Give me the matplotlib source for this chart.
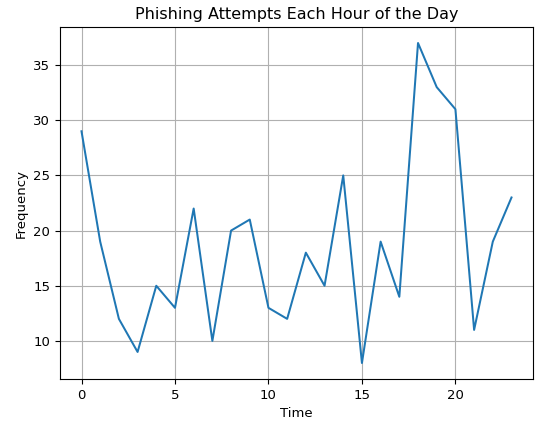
import matplotlib
matplotlib.use('Agg')
import matplotlib.pyplot as plt

hours = list(range(24))
attempts = [29, 19, 12, 9, 15, 13, 22, 10, 20, 21, 13, 12,
            18, 15, 25, 8, 19, 14, 37, 33, 31, 11, 19, 23]

fig = plt.figure(figsize=(5.35, 4.21), dpi=100)
ax = fig.add_axes([60 / 535, 42 / 421, 473 / 535, 352 / 421])
ax.plot(hours, attempts, color='#1f77b4', linewidth=1.45)
ax.set_title('Phishing Attempts Each Hour of the Day', fontsize=11.5)
ax.set_xlabel('Time', fontsize=9.5)
ax.set_ylabel('Frequency', fontsize=9.5)
ax.tick_params(labelsize=9.5)
ax.grid(True)
fig.savefig('out.png', dpi=100)
